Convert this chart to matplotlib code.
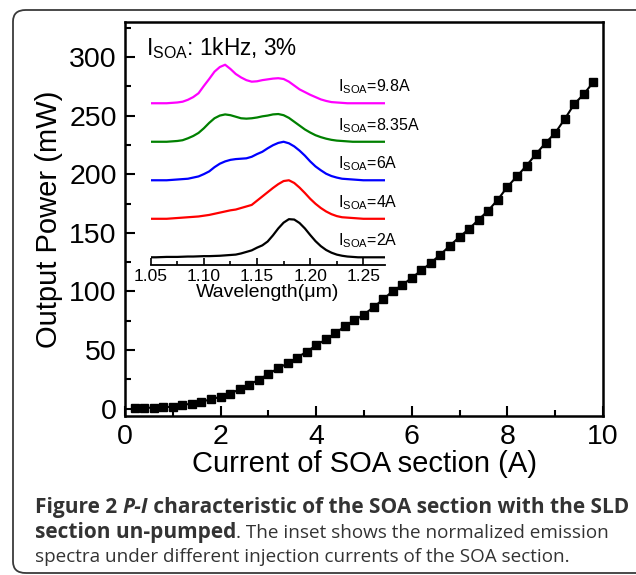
import numpy as np
import matplotlib
matplotlib.use("Agg")
import matplotlib.pyplot as plt
from matplotlib.patches import FancyBboxPatch
from matplotlib.ticker import MultipleLocator
from matplotlib.transforms import IdentityTransform

plt.rcParams['font.family'] = ['Liberation Sans', 'DejaVu Sans']
plt.rcParams['mathtext.default'] = 'regular'

# P-I curve of the SOA section
current = [0.2, 0.4, 0.6, 0.8, 1.0, 1.2, 1.4, 1.6, 1.8, 2.0,
           2.2, 2.4, 2.6, 2.8, 3.0, 3.2, 3.4, 3.6, 3.8, 4.0,
           4.2, 4.4, 4.6, 4.8, 5.0, 5.2, 5.4, 5.6, 5.8, 6.0,
           6.2, 6.4, 6.6, 6.8, 7.0, 7.2, 7.4, 7.6, 7.8, 8.0,
           8.2, 8.4, 8.6, 8.8, 9.0, 9.2, 9.4, 9.6, 9.8]
power = [0.5, 0.7, 0.8, 1.0, 1.8, 3.1, 4.3, 6.0, 7.9, 10.2,
         12.8, 16.5, 20.5, 24.7, 29.5, 34.4, 38.6, 43.5, 48.6, 54.0,
         59.1, 64.2, 70.4, 75.5, 80.3, 86.6, 93.2, 100.3, 105.4, 111.7,
         117.9, 124.5, 131.5, 139.2, 146.6, 153.5, 161.4, 169.1, 178.4, 189.3,
         198.3, 207.4, 217.4, 226.8, 235.3, 247.2, 260.0, 268.5, 278.8]

# inset: normalized spectra (um)
wavelength = [1.050, 1.055, 1.060, 1.065, 1.070, 1.075, 1.080, 1.085, 1.090,
              1.095, 1.100, 1.105, 1.110, 1.115, 1.120, 1.125, 1.130, 1.135,
              1.140, 1.145, 1.150, 1.155, 1.160, 1.165, 1.170, 1.175, 1.180,
              1.185, 1.190, 1.195, 1.200, 1.205, 1.210, 1.215, 1.220, 1.225,
              1.230, 1.235, 1.240, 1.245, 1.250, 1.255, 1.260, 1.265, 1.270]
spec_2A = [0.0, 0.0, 0.005, 0.01, 0.01, 0.01, 0.015, 0.02, 0.02,
           0.025, 0.03, 0.03, 0.035, 0.04, 0.05, 0.06, 0.07, 0.10,
           0.14, 0.18, 0.25, 0.31, 0.41, 0.57, 0.75, 0.90, 0.99,
           0.98, 0.89, 0.75, 0.58, 0.42, 0.29, 0.19, 0.12, 0.07,
           0.04, 0.02, 0.01, 0.0, 0.0, 0.0, 0.0, 0.0, 0.0]
spec_4A = [0.0, 0.0, 0.0, 0.0, 0.01, 0.02, 0.03, 0.04, 0.05,
           0.06, 0.08, 0.10, 0.13, 0.16, 0.19, 0.22, 0.24, 0.28,
           0.32, 0.36, 0.47, 0.58, 0.69, 0.80, 0.90, 0.98, 1.0,
           0.93, 0.81, 0.67, 0.52, 0.39, 0.28, 0.19, 0.12, 0.07,
           0.04, 0.03, 0.02, 0.01, 0.0, 0.0, 0.0, 0.0, 0.0]
spec_6A = [0.0, 0.0, 0.0, 0.0, 0.01, 0.02, 0.03, 0.04, 0.07,
           0.10, 0.16, 0.23, 0.34, 0.43, 0.49, 0.53, 0.55, 0.56,
           0.57, 0.61, 0.68, 0.74, 0.83, 0.91, 0.97, 1.0, 0.96,
           0.88, 0.77, 0.64, 0.49, 0.36, 0.26, 0.17, 0.11, 0.07,
           0.04, 0.03, 0.02, 0.01, 0.0, 0.0, 0.0, 0.0, 0.0]
spec_835A = [0.0, 0.0, 0.0, 0.0, 0.01, 0.02, 0.04, 0.09, 0.15,
             0.23, 0.35, 0.49, 0.61, 0.68, 0.71, 0.69, 0.65, 0.61,
             0.60, 0.61, 0.63, 0.66, 0.68, 0.71, 0.72, 0.69, 0.62,
             0.52, 0.42, 0.32, 0.24, 0.17, 0.12, 0.08, 0.05, 0.03,
             0.02, 0.01, 0.0, 0.0, 0.0, 0.0, 0.0, 0.0, 0.0]
spec_98A = [0.0, 0.0, 0.0, 0.0, 0.01, 0.02, 0.04, 0.09, 0.16,
            0.26, 0.45, 0.63, 0.82, 0.94, 1.0, 0.89, 0.76, 0.67,
            0.60, 0.56, 0.57, 0.60, 0.62, 0.64, 0.65, 0.63, 0.56,
            0.46, 0.36, 0.29, 0.22, 0.16, 0.10, 0.06, 0.03, 0.02,
            0.01, 0.0, 0.0, 0.0, 0.0, 0.0, 0.0, 0.0, 0.0]
spectra = [spec_2A, spec_4A, spec_6A, spec_835A, spec_98A]
spec_labels = ['2A', '4A', '6A', '8.35A', '9.8A']
spec_colors = ['black', 'red', 'blue', 'green', 'magenta']

W, H = 636, 575
fig = plt.figure(figsize=(W / 100, H / 100), dpi=100)

# rounded frame round the whole figure
frame = FancyBboxPatch((13 / W, 2 / H), 1.2, (H - 12) / H,
                       boxstyle="round,pad=0,rounding_size=0.02",
                       transform=fig.transFigure, fill=False,
                       edgecolor='#3a3a3a', linewidth=1.3)
fig.patches.append(frame)

# main P-I axes
ax = fig.add_axes([125 / W, 1 - 416 / H, (603 - 125) / W, (416 - 22) / H])
ax.plot(current, power, '-s', color='black', lw=1.5, ms=6.3)
ax.set_xlim(0, 10)
ax.set_ylim(-6.3, 330)
ax.xaxis.set_major_locator(MultipleLocator(2))
ax.xaxis.set_minor_locator(MultipleLocator(1))
ax.yaxis.set_major_locator(MultipleLocator(50))
ax.yaxis.set_minor_locator(MultipleLocator(25))
ax.tick_params(which='both', direction='in', top=False, right=False,
               width=1.5, labelsize=20.5, pad=6)
ax.tick_params(which='major', length=7)
ax.tick_params(which='minor', length=4)
for sp in ax.spines.values():
    sp.set_linewidth(1.8)
ax.set_xlabel('Current of SOA section (A)', fontsize=21, labelpad=0)
ax.set_ylabel('Output Power (mW)', fontsize=21, labelpad=4)

# inset with the spectra
ins = fig.add_axes([150.7 / W, 1 - 265 / H, 233.9 / W, 233 / H])
ins.patch.set_alpha(0)
for i, (sp_vals, lab, col) in enumerate(zip(spectra, spec_labels, spec_colors)):
    ins.plot(wavelength, np.array(sp_vals) + i, color=col, lw=1.6)
    ins.text(1.226, i + 0.30, r'$I_{SOA}$=' + lab, fontsize=11.5,
             va='baseline', ha='left', clip_on=False)
ins.set_xlim(1.05, 1.27)
ins.set_ylim(-0.2, 5.85)
for side in ['left', 'right', 'top']:
    ins.spines[side].set_visible(False)
ins.spines['bottom'].set_linewidth(1.3)
ins.set_yticks([])
ins.xaxis.set_major_locator(MultipleLocator(0.05))
ins.xaxis.set_minor_locator(MultipleLocator(0.025))
ins.xaxis.set_major_formatter(plt.FormatStrFormatter('%.2f'))
ins.tick_params(which='both', direction='in', width=1.2, labelsize=12.5, pad=3)
ins.tick_params(which='major', length=5)
ins.tick_params(which='minor', length=3)
ins.set_xlabel('Wavelength(\u03bcm)', fontsize=14, labelpad=0)
ins.text(1.0456, 5.25, r'$I_{SOA}$: 1kHz, 3%', fontsize=16.3, va='baseline')

# caption, assembled piece by piece
fig.canvas.draw()
renderer = fig.canvas.get_renderer()
cap_lines = [
    [('Figure 2 ', 'bold', 'normal'), ('P-I', 'bold', 'italic'),
     (' characteristic of the SOA section with the SLD', 'bold', 'normal')],
    [('section un-pumped', 'bold', 'normal'),
     ('. The inset shows the normalized emission', 'normal', 'normal')],
    [('spectra under different injection currents of the SOA section.', 'normal', 'normal')],
]
cap_size = {'bold': 15.0, 'normal': 13.6}
baselines = [513, 538, 562]
for line, yb in zip(cap_lines, baselines):
    x = 35
    for s, weight, style in line:
        t = fig.text(x, H - yb, s, transform=IdentityTransform(),
                     family=['Open Sans', 'DejaVu Sans'], fontsize=cap_size[weight],
                     fontweight=weight, fontstyle=style, color='#333333',
                     va='baseline', ha='left')
        x = t.get_window_extent(renderer).x1

fig.savefig('out.png', dpi=100)
